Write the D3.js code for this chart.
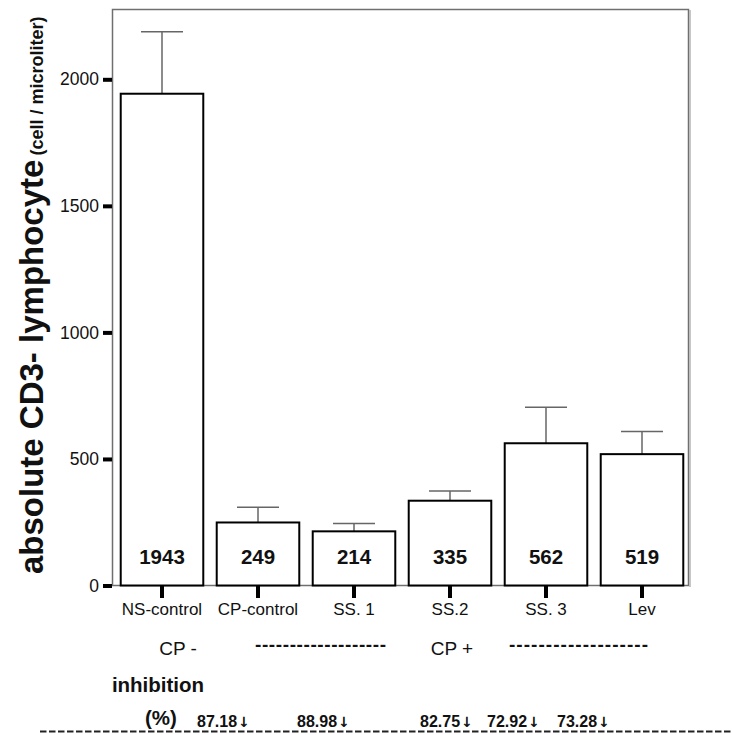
<!DOCTYPE html>
<html>
<head>
<meta charset="utf-8">
<script src="https://cdn.jsdelivr.net/npm/d3@7"></script>
<style>
  html, body { margin: 0; padding: 0; background: #fff; }
  svg { display: block; font-family: "Liberation Sans", Arial, sans-serif; }
</style>
</head>
<body>
<svg id="chart" width="732" height="735"></svg>
<script>
// Absolute CD3+ lymphocyte counts per group (mean ± SEM)
const categories = ["NS-control", "CP-control", "SS. 1", "SS.2", "SS. 3", "Lev"];
const means = [1943, 249, 214, 335, 562, 519];
const sems = [245, 60, 31, 38, 142, 89];
const yTicks = [0, 500, 1000, 1500, 2000];
const inhibition = [87.18, 88.98, 82.75, 72.92, 73.28];

const svg = d3.select("#chart");

const x = d3.scaleBand()
  .domain(categories)
  .range([114, 690])
  .paddingInner(0.14)
  .paddingOuter(0.07);

const y = d3.scaleLinear()
  .domain([0, 2000])
  .range([585.5, 79.3]);

// plot frame
svg.append("rect")
  .attr("x", 112.5).attr("y", 9.5)
  .attr("width", 576).attr("height", 576)
  .attr("fill", "#fff")
  .attr("stroke", "#6f6f6f")
  .attr("stroke-width", 1.5);
svg.append("line")
  .attr("x1", 690).attr("x2", 690).attr("y1", 10).attr("y2", 587)
  .attr("stroke", "#b5b5b5").attr("stroke-width", 1.5);

// y axis
const yAxis = d3.axisLeft(y).tickValues(yTicks).tickFormat(d3.format("d"))
  .tickSize(9).tickPadding(4);
const gy = svg.append("g").attr("transform", "translate(112,0)").call(yAxis);
gy.select(".domain").remove();
gy.selectAll(".tick line").attr("stroke", "#000").attr("stroke-width", 4);
gy.selectAll(".tick text")
  .attr("font-size", 17.5)
  .attr("fill", "#111")
  .attr("font-family", "Liberation Sans, Arial, sans-serif");

// x axis
const xAxis = d3.axisBottom(x).tickSize(12).tickPadding(5);
const gx = svg.append("g").attr("transform", "translate(0,586)").call(xAxis);
gx.select(".domain").remove();
gx.selectAll(".tick line").attr("stroke", "#000").attr("stroke-width", 4);
gx.selectAll(".tick text")
  .attr("font-size", 17)
  .attr("fill", "#111")
  .attr("font-family", "Liberation Sans, Arial, sans-serif");

const rows = categories.map((c, i) => ({ c, m: means[i], s: sems[i] }));

// error bars (upper only)
const eb = svg.append("g").attr("stroke", "#666").attr("stroke-width", 1.5);
rows.forEach(d => {
  const cx = x(d.c) + x.bandwidth() / 2;
  eb.append("line").attr("x1", cx).attr("x2", cx)
    .attr("y1", y(d.m)).attr("y2", y(d.m + d.s));
  eb.append("line").attr("x1", cx - 21).attr("x2", cx + 21)
    .attr("y1", y(d.m + d.s)).attr("y2", y(d.m + d.s));
});

// bars
svg.append("g").selectAll("rect").data(rows).join("rect")
  .attr("x", d => x(d.c))
  .attr("y", d => y(d.m))
  .attr("width", x.bandwidth())
  .attr("height", d => y(0) - y(d.m))
  .attr("fill", "#fff")
  .attr("stroke", "#000")
  .attr("stroke-width", 2);

// value labels inside bars
svg.append("g").selectAll("text").data(rows).join("text")
  .attr("x", d => x(d.c) + x.bandwidth() / 2)
  .attr("y", 564)
  .attr("text-anchor", "middle")
  .attr("font-size", 20.5)
  .attr("font-weight", "bold")
  .attr("fill", "#111")
  .text(d => d.m);

// y axis title
const yt = svg.append("text")
  .attr("transform", "translate(43,574) rotate(-90)")
  .attr("font-weight", "bold")
  .attr("fill", "#111");
yt.append("tspan").attr("font-size", 33).text("absolute CD3- lymphocyte");
yt.append("tspan").attr("font-size", 18).attr("dx", 4).text("(cell / microliter)");

// group annotation below axis
const note = svg.append("g").attr("fill", "#111");
note.append("text").attr("x", 178).attr("y", 655).attr("text-anchor", "middle")
  .attr("font-size", 19).text("CP -");
note.append("text").attr("x", 255).attr("y", 651)
  .attr("font-size", 19).attr("font-weight", "bold").attr("textLength", 131).attr("lengthAdjust", "spacing")
  .text("-------------------");
note.append("text").attr("x", 452).attr("y", 655).attr("text-anchor", "middle")
  .attr("font-size", 19).text("CP +");
note.append("text").attr("x", 509).attr("y", 651)
  .attr("font-size", 19).attr("font-weight", "bold").attr("textLength", 139).attr("lengthAdjust", "spacing")
  .text("-------------------");

note.append("text").attr("x", 158).attr("y", 692).attr("text-anchor", "middle")
  .attr("font-size", 20.5).attr("font-weight", "bold").text("inhibition");
note.append("text").attr("x", 161).attr("y", 725).attr("text-anchor", "middle")
  .attr("font-size", 20.5).attr("font-weight", "bold").text("(%)");

// dashed rule under the inhibition row
svg.append("line")
  .attr("x1", 40).attr("x2", 732).attr("y1", 731.5).attr("y2", 731.5)
  .attr("stroke", "#222").attr("stroke-width", 2)
  .attr("stroke-dasharray", "6.5,2.5");

// inhibition percentages, left edges of each label
const inhibitionLeft = [197, 297, 420, 487, 557];
const inh = note.append("g").selectAll("text").data(inhibition).join("text")
  .attr("x", (d, i) => inhibitionLeft[i])
  .attr("y", 727)
  .attr("font-size", 16)
  .attr("font-weight", "bold");
inh.append("tspan").text(d => d.toFixed(2));
inh.append("tspan").attr("font-family", "DejaVu Sans, sans-serif")
  .attr("font-size", 14).attr("dx", 1).text("↓");
</script>
</body>
</html>
